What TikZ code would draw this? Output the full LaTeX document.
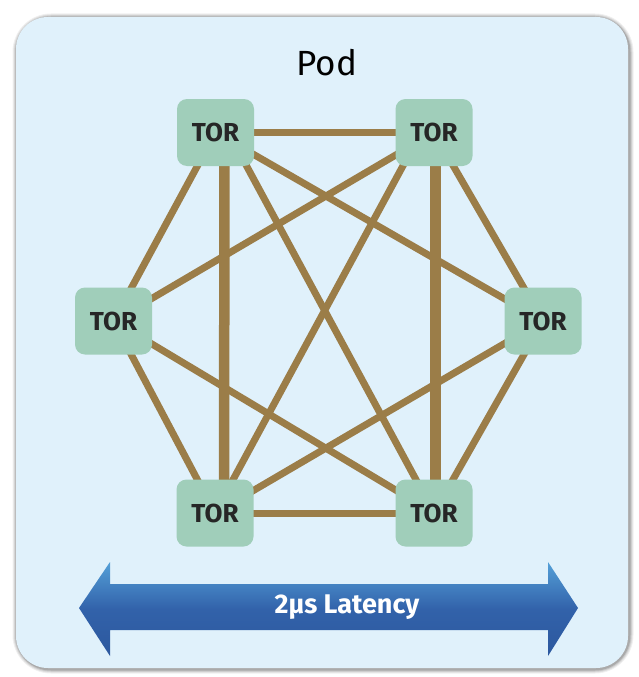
\documentclass[tikz,border=0pt]{standalone}
\usepackage{fontspec}
\setmainfont{Fira Sans}
\usetikzlibrary{calc}
\pgfdeclarelayer{panel}
\pgfdeclarelayer{links}
\pgfsetlayers{panel,links,main}
\definecolor{bgblue}{RGB}{224,241,251}
\definecolor{torfill}{RGB}{160,206,186}
\definecolor{linkcol}{RGB}{155,125,72}
\definecolor{arrtop}{RGB}{84,160,216}
\definecolor{arrmid}{RGB}{50,98,170}
\definecolor{arrbot}{RGB}{44,88,158}
\tikzset{
  tor/.style={fill=torfill, rounded corners=10pt, minimum width=77pt, minimum height=67pt, inner sep=0pt, font=\fontsize{26}{26}\selectfont\bfseries, text=black!85},
  link/.style={draw=linkcol, line width=7pt},
  vlink/.style={draw=linkcol, line width=10.5pt},
}
\begin{document}
\begin{tikzpicture}[x=1pt,y=-1pt]
\useasboundingbox (0,0) rectangle (638,677);
\begin{pgfonlayer}{panel}
\foreach \w/\o in {9/0.06,7/0.08,5/0.10,3/0.14}{
  \draw[black, opacity=\o, line width=\w pt, rounded corners=34pt] (17,18) rectangle (629,669);
}
\fill[bgblue, rounded corners=32pt] (16,17) rectangle (628,668);
\end{pgfonlayer}
\node (title) at (327,63) {\fontsize{35}{35}\selectfont Pod};
% TOR switches
\node[tor] (TL) at (215.5,132.5) {TOR};
\node[tor] (TR) at (434,132.5) {TOR};
\node[tor] (L)  at (113.5,321) {TOR};
\node[tor] (R)  at (543,321) {TOR};
\node[tor] (BL) at (215,513) {TOR};
\node[tor] (BR) at (434,513) {TOR};
% links behind the switches
\begin{pgfonlayer}{links}
\path[link] (TL.center) -- (TR.center);
\path[link] (BL.center) -- (BR.center);
\path[link] (TL.center) -- (L.center);
\path[link] (TL.center) -- (R.center);
\path[link] ($(TL.center)+(13,0)$) -- (BR.center);
\path[vlink] ($(TL.center)+(9,0)$) -- ($(BL.center)+(9,0)$);
\path[link] (TR.center) -- (L.center);
\path[link] (TR.center) -- (R.center);
\path[link] ($(TR.center)+(-13,0)$) -- (BL.center);
\path[vlink] ($(TR.center)+(1.5,0)$) -- ($(BR.center)+(1.5,0)$);
\path[link] (L.center) -- (BL.center);
\path[link] (L.center) -- (BR.center);
\path[link] (R.center) -- (BL.center);
\path[link] (R.center) -- (BR.center);
\end{pgfonlayer}
% latency arrow
\path[top color=arrtop, bottom color=arrbot, middle color=arrmid]
  (79,608) -- (110,562) -- (110,584) -- (548,584) -- (548,562) -- (578,608)
  -- (548,656) -- (548,630) -- (110,630) -- (110,656) -- cycle;
\node[text=white, font=\fontsize{27}{27}\selectfont\bfseries] (lat) at (347,607) {2μs Latency};
\end{tikzpicture}
\end{document}
